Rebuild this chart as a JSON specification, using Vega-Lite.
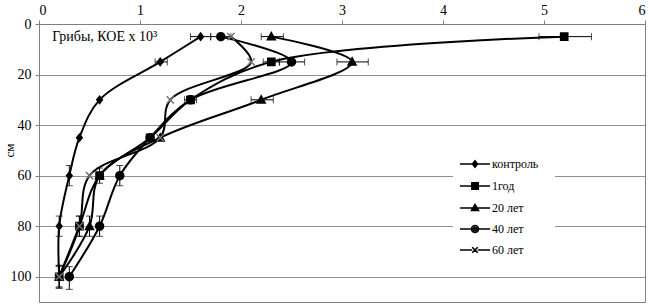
{
  "$schema": "https://vega.github.io/schema/vega-lite/v6.json",
  "width": 606,
  "height": 278,
  "autosize": {"type": "none"},
  "padding": {"left": 39, "top": 24, "right": 4, "bottom": 4},
  "background": "white",
  "config": {
    "font": "Times New Roman",
    "text": {"font": "Times New Roman"},
    "view": {"stroke": "#808080", "strokeWidth": 1},
    "axis": {"labelFont": "Times New Roman", "titleFont": "Times New Roman", "labelColor": "black", "labelFontSize": 14, "domainColor": "#808080", "tickColor": "#808080", "gridColor": "#909090", "gridOpacity": 1},
    "legend": {"labelFont": "Times New Roman", "titleFont": "Times New Roman"}
  },
  "datasets": {
    "pts": [
      {"series": "контроль", "x": 1.6, "depth": 5},
      {"series": "контроль", "x": 1.2, "depth": 15},
      {"series": "контроль", "x": 0.6, "depth": 30},
      {"series": "контроль", "x": 0.4, "depth": 45},
      {"series": "контроль", "x": 0.3, "depth": 60},
      {"series": "контроль", "x": 0.2, "depth": 80},
      {"series": "контроль", "x": 0.2, "depth": 100},
      {"series": "1год", "x": 5.2, "depth": 5},
      {"series": "1год", "x": 2.3, "depth": 15},
      {"series": "1год", "x": 1.5, "depth": 30},
      {"series": "1год", "x": 1.1, "depth": 45},
      {"series": "1год", "x": 0.6, "depth": 60},
      {"series": "1год", "x": 0.4, "depth": 80},
      {"series": "1год", "x": 0.2, "depth": 100},
      {"series": "20 лет", "x": 2.3, "depth": 5},
      {"series": "20 лет", "x": 3.1, "depth": 15},
      {"series": "20 лет", "x": 2.2, "depth": 30},
      {"series": "20 лет", "x": 1.2, "depth": 45},
      {"series": "20 лет", "x": 0.6, "depth": 60},
      {"series": "20 лет", "x": 0.5, "depth": 80},
      {"series": "20 лет", "x": 0.2, "depth": 100},
      {"series": "40 лет", "x": 1.8, "depth": 5},
      {"series": "40 лет", "x": 2.5, "depth": 15},
      {"series": "40 лет", "x": 1.5, "depth": 30},
      {"series": "40 лет", "x": 1.1, "depth": 45},
      {"series": "40 лет", "x": 0.8, "depth": 60},
      {"series": "40 лет", "x": 0.6, "depth": 80},
      {"series": "40 лет", "x": 0.3, "depth": 100},
      {"series": "60 лет", "x": 1.9, "depth": 5},
      {"series": "60 лет", "x": 2.1, "depth": 15},
      {"series": "60 лет", "x": 1.3, "depth": 30},
      {"series": "60 лет", "x": 1.2, "depth": 45},
      {"series": "60 лет", "x": 0.5, "depth": 60},
      {"series": "60 лет", "x": 0.4, "depth": 80},
      {"series": "60 лет", "x": 0.2, "depth": 100}
    ],
    "herr": [
      {"series": "контроль", "xlo": 1.5, "xhi": 1.7, "depth": 5},
      {"series": "контроль", "xlo": 1.15, "xhi": 1.27, "depth": 15},
      {"series": "1год", "xlo": 4.95, "xhi": 5.47, "depth": 5},
      {"series": "1год", "xlo": 2.22, "xhi": 2.38, "depth": 15},
      {"series": "1год", "xlo": 1.44, "xhi": 1.56, "depth": 30},
      {"series": "20 лет", "xlo": 2.2, "xhi": 2.42, "depth": 5},
      {"series": "20 лет", "xlo": 2.95, "xhi": 3.26, "depth": 15},
      {"series": "20 лет", "xlo": 2.1, "xhi": 2.32, "depth": 30},
      {"series": "40 лет", "xlo": 1.7, "xhi": 1.9, "depth": 5},
      {"series": "40 лет", "xlo": 2.38, "xhi": 2.63, "depth": 15}
    ],
    "verr": [
      {"series": "контроль", "x": 0.3, "dlo": 56, "dhi": 64},
      {"series": "контроль", "x": 0.2, "dlo": 76, "dhi": 84},
      {"series": "контроль", "x": 0.2, "dlo": 95.5, "dhi": 104.5},
      {"series": "1год", "x": 0.6, "dlo": 57, "dhi": 63},
      {"series": "1год", "x": 0.4, "dlo": 76, "dhi": 84},
      {"series": "1год", "x": 0.2, "dlo": 96, "dhi": 104},
      {"series": "20 лет", "x": 0.5, "dlo": 76, "dhi": 84},
      {"series": "40 лет", "x": 0.8, "dlo": 56, "dhi": 64},
      {"series": "40 лет", "x": 0.6, "dlo": 76, "dhi": 84},
      {"series": "40 лет", "x": 0.3, "dlo": 96, "dhi": 105},
      {"series": "60 лет", "x": 0.4, "dlo": 76, "dhi": 84},
      {"series": "60 лет", "x": 0.2, "dlo": 95.5, "dhi": 104.5}
    ],
    "note": [
      {"label": "Грибы, КОЕ x 10³", "x": 0.13, "depth": 5}
    ]
  },
  "encoding": {
    "y": {
      "field": "depth", "type": "quantitative",
      "scale": {"domain": [0, 110], "reverse": true, "nice": false, "zero": false},
      "axis": {"values": [0, 20, 40, 60, 80, 100], "title": "см", "titleFontSize": 13, "titleFontWeight": "normal", "titleX": -30, "titleY": 126, "titleAngle": -90, "titleAlign": "center", "titleBaseline": "middle", "tickSize": 4, "labelPadding": 4, "grid": true, "domainColor": "#808080"}
    }
  },
  "layer": [
    {
      "data": {"name": "herr"},
      "mark": {"type": "errorbar", "orient": "horizontal", "ticks": {"size": 7, "thickness": 1, "color": "black"}, "rule": {"strokeWidth": 1, "color": "black"}},
      "encoding": {
        "x": {"field": "xlo", "type": "quantitative", "scale": {"domain": [0, 6], "nice": false}, "axis": {"orient": "top", "values": [0, 1, 2, 3, 4, 5, 6], "format": "d", "title": null, "grid": false, "tickSize": 4, "labelPadding": 3}},
        "x2": {"field": "xhi"},
        "y": {"field": "depth", "type": "quantitative"}
      }
    },
    {
      "data": {"name": "verr"},
      "mark": {"type": "errorbar", "orient": "vertical", "ticks": {"size": 7, "thickness": 1, "color": "black"}, "rule": {"strokeWidth": 1, "color": "black"}},
      "encoding": {
        "x": {"field": "x", "type": "quantitative"},
        "y": {"field": "dlo", "type": "quantitative"},
        "y2": {"field": "dhi"}
      }
    },
    {
      "data": {"name": "pts"},
      "mark": {"type": "line", "interpolate": "catmull-rom", "color": "black", "strokeWidth": 2},
      "encoding": {
        "x": {"field": "x", "type": "quantitative"},
        "detail": {"field": "series"},
        "order": {"field": "depth", "type": "quantitative"}
      }
    },
    {
      "data": {"name": "pts"},
      "mark": {"type": "point", "filled": true, "fill": "black", "strokeWidth": 1.5, "opacity": 1, "size": 64},
      "encoding": {
        "x": {"field": "x", "type": "quantitative"},
        "shape": {
          "field": "series", "type": "nominal", "legend": null,
          "scale": {"domain": ["контроль", "1год", "20 лет", "40 лет", "60 лет"],
            "range": ["M0,-0.9L0.7,0L0,0.9L-0.7,0Z", "M-0.9,-0.9H0.9V0.9H-0.9Z", "M0,-1L1,0.8H-1Z", "circle", "M-0.9,-0.9L0.9,0.9M-0.9,0.9L0.9,-0.9"]}
        },
        "stroke": {
          "field": "series", "type": "nominal", "legend": null,
          "scale": {"domain": ["контроль", "1год", "20 лет", "40 лет", "60 лет"], "range": ["black", "black", "black", "black", "#707070"]}
        }
      }
    },
    {
      "data": {"name": "pts"},
      "transform": [{"filter": "datum.depth > 1000"}],
      "mark": {"type": "point", "filled": false, "color": "black", "strokeWidth": 1.6, "size": 49, "opacity": 1},
      "encoding": {
        "x": {"field": "x", "type": "quantitative"},
        "shape": {
          "field": "series", "type": "nominal",
          "scale": {"domain": ["контроль", "1год", "20 лет", "40 лет", "60 лет"],
            "range": [
              "M-4.3,0H4.3M0,-0.9L0.7,0L0,0.9L-0.7,0ZM0,-0.45L0.35,0L0,0.45L-0.35,0Z",
              "M-4.3,0H4.3M-0.9,-0.9H0.9V0.9H-0.9ZM-0.9,-0.45H0.9M-0.9,0.45H0.9",
              "M-4.3,0H4.3M0,-1L1,0.7H-1ZM0,-0.4L0.45,0.3H-0.45ZM-0.7,0.45H0.7",
              "M-4.3,0H4.3M-1,0A1,1 0 1,0 1,0A1,1 0 1,0 -1,0ZM-0.5,0A0.5,0.5 0 1,0 0.5,0A0.5,0.5 0 1,0 -0.5,0Z",
              "M-4.3,0H-0.8M0.8,0H4.3M-0.8,-0.8L0.8,0.8M-0.8,0.8L0.8,-0.8"]},
          "legend": {
            "title": null, "orient": "none", "legendX": 414, "legendY": 118,
            "padding": 16, "fillColor": "white", "symbolSize": 49, "symbolOpacity": 1,
            "symbolStrokeColor": "black", "symbolStrokeWidth": 1.6,
            "labelFontSize": 12, "labelColor": "black", "labelOffset": 11, "rowPadding": 8, "labelLimit": 80
          }
        }
      }
    },
    {
      "data": {"name": "note"},
      "mark": {"type": "text", "align": "left", "baseline": "middle", "fontSize": 14, "color": "black"},
      "encoding": {
        "x": {"field": "x", "type": "quantitative"},
        "text": {"field": "label"}
      }
    }
  ],
  "resolve": {"scale": {"shape": "independent", "stroke": "independent"}, "legend": {"shape": "independent"}}
}
